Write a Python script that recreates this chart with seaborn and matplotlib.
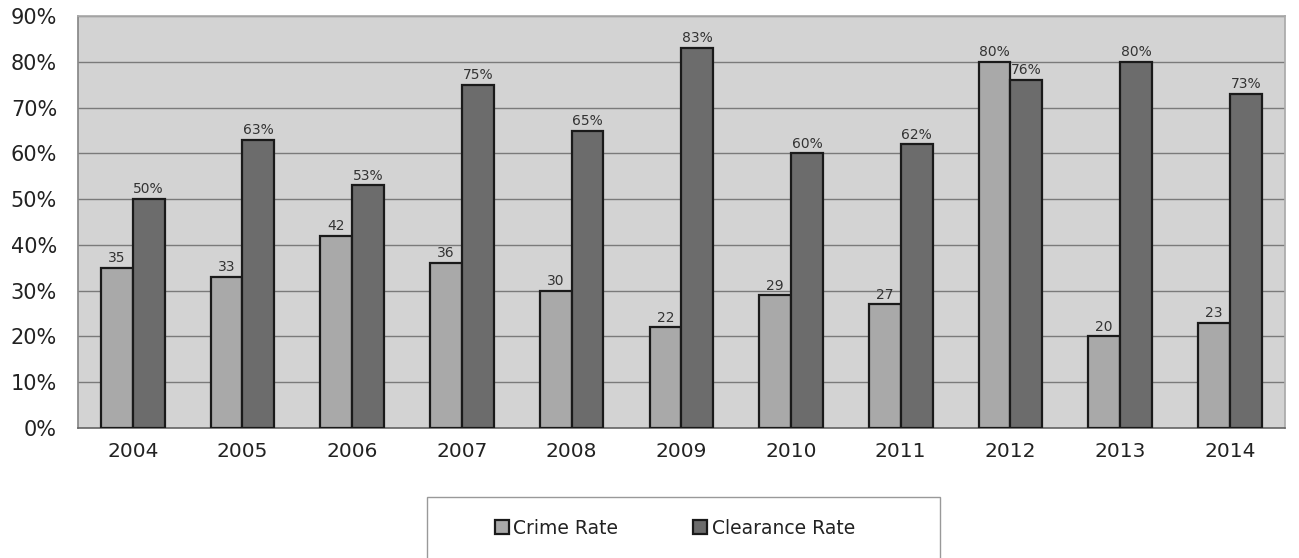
import matplotlib
matplotlib.use("Agg")
import matplotlib.pyplot as plt
import seaborn as sns
import pandas as pd
import numpy as np
from matplotlib.ticker import FixedLocator, FuncFormatter
from matplotlib.patches import Rectangle

years = ["2004", "2005", "2006", "2007", "2008", "2009", "2010", "2011", "2012", "2013", "2014"]
crime_rate = [35, 33, 42, 36, 30, 22, 29, 27, 80, 20, 23]
clearance_rate = [50, 63, 53, 75, 65, 83, 60, 62, 76, 80, 73]
crime_labels = ["35", "33", "42", "36", "30", "22", "29", "27", "80%", "20", "23"]
clearance_labels = [f"{v}%" for v in clearance_rate]
series = ["Crime Rate", "Clearance Rate"]

df = pd.DataFrame({
    "Year": years * 2,
    "Rate": crime_rate + clearance_rate,
    "Series": [series[0]] * len(years) + [series[1]] * len(years),
})

sns.set_theme(style="white")
plt.rcParams["font.family"] = ["DejaVu Sans"]

fig = plt.figure(figsize=(12.99, 5.58), dpi=100)
ax = fig.add_axes([0.060, 0.233, 0.929, 0.738])
ax.set_facecolor("#d3d3d3")

sns.barplot(data=df, x="Year", y="Rate", hue="Series", hue_order=series,
            palette=["#a9a9a9", "#6c6c6c"], width=0.58, edgecolor="#1a1a1a",
            linewidth=1.6, saturation=1, ax=ax, legend=True, zorder=3)

for cont, labs in zip(ax.containers, [crime_labels, clearance_labels]):
    ax.bar_label(cont, labels=labs, padding=2, fontsize=10, color="#333333")

ax.set_ylim(0, 90)
ax.set_yticks(np.arange(0, 91, 10))
ax.yaxis.set_major_formatter(FuncFormatter(lambda v, p: f"{int(v)}%"))
ax.yaxis.grid(True, color="#7a7a7a", linewidth=1.0, zorder=0)
ax.set_axisbelow(True)
ax.set_xlim(-0.5, len(years) - 0.5)
ax.set_xlabel("")
ax.set_ylabel("")
ax.tick_params(axis="y", labelsize=15, colors="#222222", length=0, pad=15)
ax.tick_params(axis="x", labelsize=14.5, colors="#222222", length=0, pad=10)
ax.xaxis.set_minor_locator(FixedLocator(np.arange(-0.5, len(years), 1)))
ax.tick_params(axis="x", which="minor", length=6, color="#888888", direction="out")

for side in ["top", "right"]:
    ax.spines[side].set_visible(True)
    ax.spines[side].set_color("#aaaaaa")
ax.spines["left"].set_color("#888888")
ax.spines["bottom"].set_color("#666666")
ax.spines["bottom"].set_linewidth(1.2)

# legend box (extends past the bottom edge as in the reference)
W, H = 1299, 558
fig.patches.append(Rectangle((427 / W, -0.02), (940 - 427) / W, (H - 497) / H + 0.02,
                             transform=fig.transFigure, facecolor="white",
                             edgecolor="#999999", linewidth=1.0, zorder=0))

handles, labels = ax.get_legend_handles_labels()
ax.get_legend().remove()
leg = fig.legend(handles, labels, loc="center", bbox_to_anchor=(675 / W, 1 - 528 / H),
                 ncol=2, frameon=False, fontsize=13.5, handlelength=0.75, handleheight=0.75,
                 columnspacing=4.0, handletextpad=0.25)
for t in leg.get_texts():
    t.set_color("#222222")

fig.savefig("out.png", dpi=100, facecolor="white")
